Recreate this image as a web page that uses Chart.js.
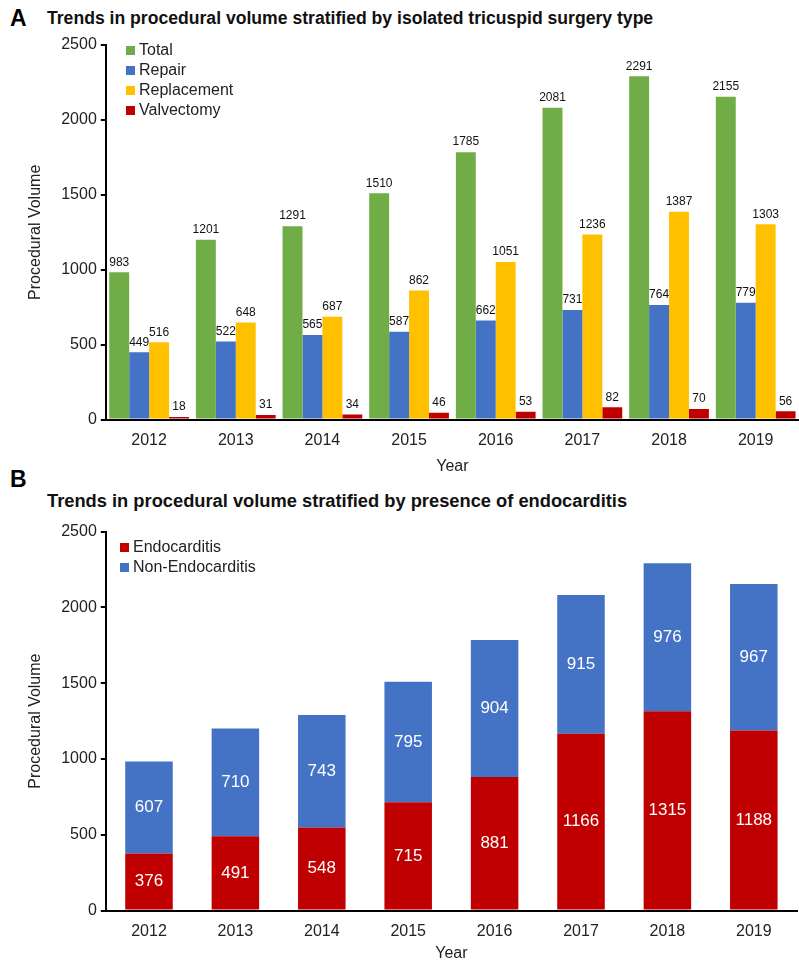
<!DOCTYPE html>
<html>
<head>
<meta charset="utf-8">
<script src="https://cdn.jsdelivr.net/npm/chart.js@4.4.1/dist/chart.umd.min.js"></script>
<style>
  body { margin:0; background:#fff; font-family: "Liberation Sans", Arial, sans-serif; }
  .wrap { position:relative; width:799px; height:967px; overflow:hidden; }
  .panel { position:absolute; font-weight:bold; color:#000; }
  .title { position:absolute; font-weight:bold; color:#111; white-space:nowrap; }
  .legend { position:absolute; font-size:16px; color:#222; line-height:20px; }
  .legend span.box { display:inline-block; width:9px; height:9px; margin-right:4px; vertical-align:0px; }
  canvas { position:absolute; }
</style>
</head>
<body>
<div class="wrap">
  <div class="panel" style="left:10px; top:5px; font-size:23px;">A</div>
  <div class="title" style="left:47px; top:8px; font-size:17.6px;">Trends in procedural volume stratified by isolated tricuspid surgery type</div>
  <div class="panel" style="left:10px; top:466px; font-size:23px;">B</div>
  <div class="title" style="left:47px; top:490px; font-size:18.3px;">Trends in procedural volume stratified by presence of endocarditis</div>
  <div style="position:absolute; left:0; top:30px; width:799px; height:450px;"><canvas id="chartA"></canvas></div>
  <div style="position:absolute; left:0; top:518px; width:799px; height:449px;"><canvas id="chartB"></canvas></div>
  <div class="legend" id="legA" style="left:126px; top:40px;"></div>
  <div class="legend" id="legB" style="left:120px; top:537px;"></div>
</div>
<script>
// categories and values
const years = ["2012", "2013", "2014", "2015", "2016", "2017", "2018", "2019"];
const total = [983, 1201, 1291, 1510, 1785, 2081, 2291, 2155];
const repair = [449, 522, 565, 587, 662, 731, 764, 779];
const replacement = [516, 648, 687, 862, 1051, 1236, 1387, 1303];
const valvectomy = [18, 31, 34, 46, 53, 82, 70, 56];
const endocarditis = [376, 491, 548, 715, 881, 1166, 1315, 1188];
const nonEndocarditis = [607, 710, 743, 795, 904, 915, 976, 967];
const yTicks = [0, 500, 1000, 1500, 2000, 2500];

const GREEN = "#70AD47", BLUE = "#4472C4", YELLOW = "#FFC000", RED = "#C00000";
const FONT = "'Liberation Sans', Arial, sans-serif";

// simple value label plugin (no datalabels lib available)
const valueLabels = {
  id: "valueLabels",
  afterDatasetsDraw(chart, args, opts) {
    const ctx = chart.ctx;
    ctx.save();
    chart.data.datasets.forEach((ds, i) => {
      const meta = chart.getDatasetMeta(i);
      meta.data.forEach((bar, j) => {
        const v = ds.data[j];
        ctx.font = opts.size + "px " + FONT;
        ctx.fillStyle = opts.color;
        ctx.textAlign = "center";
        if (opts.inside) {
          ctx.textBaseline = "middle";
          ctx.fillText(v, bar.x, (bar.y + bar.base) / 2);
        } else {
          ctx.textBaseline = "bottom";
          ctx.fillText(v, bar.x, bar.y - 4);
        }
      });
    });
    ctx.restore();
  }
};

function makeLegend(id, items) {
  document.getElementById(id).innerHTML = items.map(it =>
    '<div><span class="box" style="background:' + it[1] + '"></span>' + it[0] + '</div>').join("");
}

function axes(stacked, tickPad, titlePad) {
  return {
    x: {
      stacked: stacked,
      grid: { display: false },
      border: { color: "#000", width: 2 },
      ticks: { color: "#222", font: { family: FONT, size: 16 }, padding: tickPad },
      title: { display: true, text: "Year", color: "#222", font: { family: FONT, size: 16 }, padding: { top: titlePad } }
    },
    y: {
      stacked: stacked,
      min: 0, max: 2500,
      afterBuildTicks(axis) { axis.ticks = yTicks.map(v => ({ value: v })); },
      grid: { drawOnChartArea: false, drawTicks: true, tickLength: 5, color: "#000", lineWidth: 2 },
      border: { color: "#000", width: 2 },
      ticks: { color: "#222", font: { family: FONT, size: 16 }, padding: 4, callback: v => String(v) },
      title: { display: true, text: "Procedural Volume", color: "#222", font: { family: FONT, size: 16 }, padding: { bottom: 12 } }
    }
  };
}

makeLegend("legA", [["Total", GREEN], ["Repair", BLUE], ["Replacement", YELLOW], ["Valvectomy", RED]]);
makeLegend("legB", [["Endocarditis", RED], ["Non-Endocarditis", BLUE]]);

new Chart(document.getElementById("chartA"), {
  type: "bar",
  data: {
    labels: years,
    datasets: [
      { label: "Total", data: total, backgroundColor: GREEN },
      { label: "Repair", data: repair, backgroundColor: BLUE },
      { label: "Replacement", data: replacement, backgroundColor: YELLOW },
      { label: "Valvectomy", data: valvectomy, backgroundColor: RED }
    ]
  },
  options: {
    responsive: true,
    maintainAspectRatio: false,
    animation: false,
    datasets: { bar: { categoryPercentage: 0.92, barPercentage: 1.0 } },
    layout: { padding: { top: 15, right: 0, left: 22, bottom: 0 } },
    plugins: {
      legend: { display: false },
      tooltip: { enabled: false },
      valueLabels: { size: 12, color: "#111", inside: false }
    },
    scales: axes(false, 3, 4)
  },
  plugins: [valueLabels]
});

new Chart(document.getElementById("chartB"), {
  type: "bar",
  data: {
    labels: years,
    datasets: [
      { label: "Endocarditis", data: endocarditis, backgroundColor: RED },
      { label: "Non-Endocarditis", data: nonEndocarditis, backgroundColor: BLUE }
    ]
  },
  options: {
    responsive: true,
    maintainAspectRatio: false,
    animation: false,
    datasets: { bar: { categoryPercentage: 1.0, barPercentage: 0.55 } },
    layout: { padding: { top: 11, right: 2, left: 22, bottom: 0 } },
    plugins: {
      legend: { display: false },
      tooltip: { enabled: false },
      valueLabels: { size: 17, color: "#fff", inside: true }
    },
    scales: axes(true, 3, 0)
  },
  plugins: [valueLabels]
});
</script>
</body>
</html>
